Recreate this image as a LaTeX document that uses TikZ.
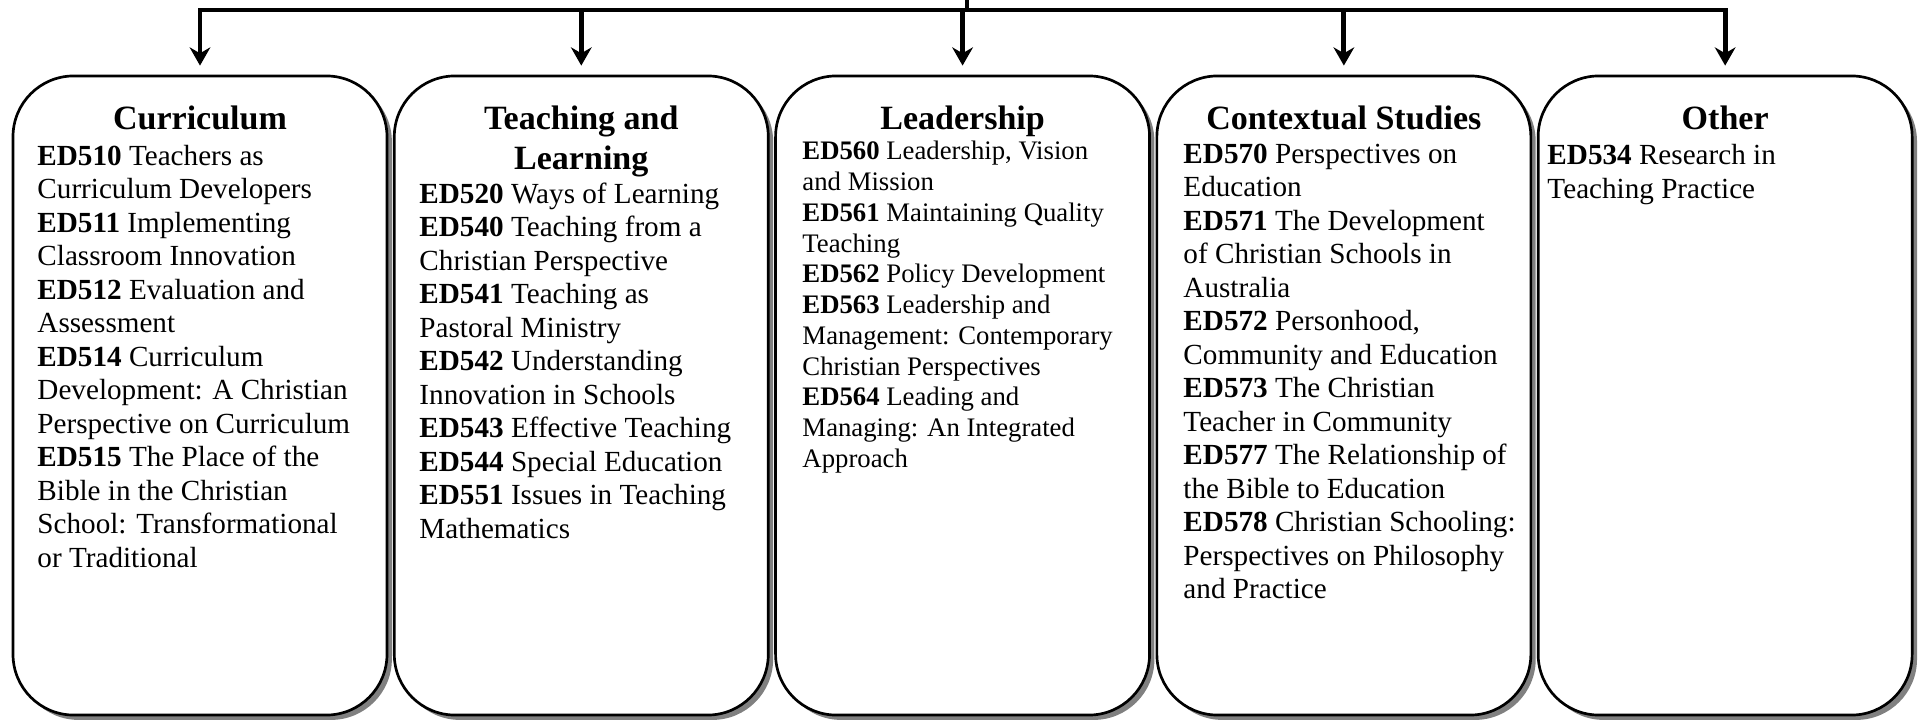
\documentclass[tikz,border=0pt]{standalone}
\usepackage{fontspec}
\setmainfont{Liberation Serif}
\usetikzlibrary{arrows.meta,positioning,shadows}

\begin{document}
\begin{tikzpicture}[x=0.4115pt,y=0.4115pt,>={Stealth[length=7.5pt,width=8.5pt]}]
\tikzstyle{catbox}=[draw,line width=1.1pt,rounded corners=25pt,fill=white,minimum width=153.9pt,minimum height=263pt,inner sep=0pt,drop shadow={shadow xshift=2pt,shadow yshift=-2pt,fill=black!50,opacity=1}]
\tikzstyle{head}=[anchor=base,inner sep=0pt,align=center,font=\fontsize{14}{16.1}\selectfont\bfseries]
\tikzstyle{list}=[anchor=base west,inner sep=0pt,align=left,font=\fontsize{12}{13.8}\selectfont]
\tikzstyle{link}=[line width=2pt]

\useasboundingbox (0,0) rectangle (1925,-723);

% category boxes
\node[catbox] (cur) at (200,-395.5) {};
\node[catbox] (tl) [right of=cur,node distance=156.9pt] {};
\node[catbox] (lead) [right of=tl,node distance=156.9pt] {};
\node[catbox] (ctx) [right of=lead,node distance=156.9pt] {};
\node[catbox] (oth) [right of=ctx,node distance=156.9pt] {};

\coordinate (root) at (967,0);
\coordinate (bar) at (967,-10);
\coordinate (hl) at (0,-130);

% headings (base = last line)
\node[head] (cur-h) at (cur |- hl) {Curriculum};
\node[head] (tl-h) at ([yshift=-16.1pt]tl |- hl) {Teaching and\\Learning};
\node[head] (lead-h) at (lead |- hl) {Leadership};
\node[head] (ctx-h) at (ctx |- hl) {Contextual Studies};
\node[head] (oth-h) at (oth |- hl) {Other};

% unit lists, placed by the baseline of their last line
\node[list] (cur-l) at (37,-567.5) {\textbf{ED510} Teachers as\\
Curriculum Developers\\
\textbf{ED511} Implementing\\
Classroom Innovation\\
\textbf{ED512} Evaluation and\\
Assessment\\
\textbf{ED514} Curriculum\\
Development: A Christian\\
Perspective on Curriculum\\
\textbf{ED515} The Place of the\\
Bible in the Christian\\
School: Transformational\\
or Traditional};

\node[list] (tl-l) at (419,-538.4) {\textbf{ED520} Ways of Learning\\
\textbf{ED540} Teaching from a\\
Christian Perspective\\
\textbf{ED541} Teaching as\\
Pastoral Ministry\\
\textbf{ED542} Understanding\\
Innovation in Schools\\
\textbf{ED543} Effective Teaching\\
\textbf{ED544} Special Education\\
\textbf{ED551} Issues in Teaching\\
Mathematics};

\node[list,font=\fontsize{11}{12.65}\selectfont] (lead-l) at (802,-467.4) {\textbf{ED560} Leadership, Vision\\
and Mission\\
\textbf{ED561} Maintaining Quality\\
Teaching\\
\textbf{ED562} Policy Development\\
\textbf{ED563} Leadership and\\
Management: Contemporary\\
Christian Perspectives\\
\textbf{ED564} Leading and\\
Managing: An Integrated\\
Approach};

\node[list] (ctx-l) at (1183,-599) {\textbf{ED570} Perspectives on\\
Education\\
\textbf{ED571} The Development\\
of Christian Schools in\\
Australia\\
\textbf{ED572} Personhood,\\
Community and Education\\
\textbf{ED573} The Christian\\
Teacher in Community\\
\textbf{ED577} The Relationship of\\
the Bible to Education\\
\textbf{ED578} Christian Schooling:\\
Perspectives on Philosophy\\
and Practice};

\node[list] (oth-l) at (1547,-198.5) {\textbf{ED534} Research in\\
Teaching Practice};

% connectors
\draw[link] (root) -- (bar);
\draw[link,line cap=rect] (cur.north |- bar) -- (oth.north |- bar);
\path[link,->,shorten >=3.7pt]
(cur.north |- bar) edge (cur)
(tl.north |- bar) edge (tl)
(lead.north |- bar) edge (lead)
(ctx.north |- bar) edge (ctx)
(oth.north |- bar) edge (oth)
;
\end{tikzpicture}
\end{document}
